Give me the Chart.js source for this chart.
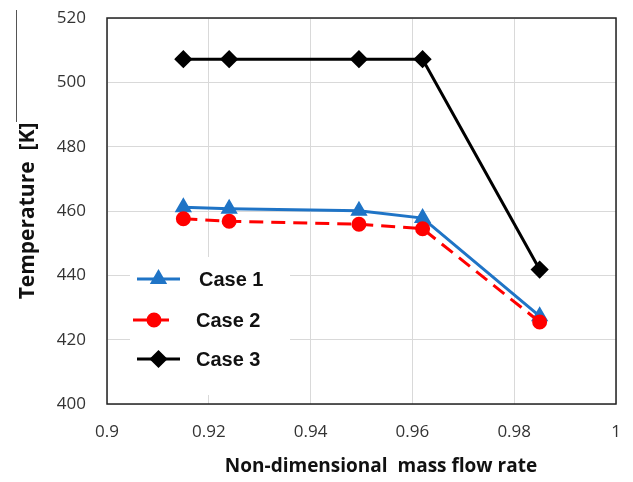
<!DOCTYPE html>
<html>
<head>
<meta charset="utf-8">
<script src="https://cdn.jsdelivr.net/npm/chart.js@4"></script>
<style>
  html, body { margin: 0; padding: 0; background: #fff; }
  #wrap { width: 633px; height: 482px; position: relative; }
</style>
</head>
<body>
<div id="wrap"><canvas id="chart"></canvas></div>
<script>
// datos
const massFlow = [0.915, 0.924, 0.9495, 0.962, 0.985];
const case1 = [461.2, 460.7, 460.1, 457.8, 427.3];
const case2 = [457.6, 456.8, 455.9, 454.5, 425.5];
const case3 = [507.2, 507.2, 507.2, 507.2, 441.8];
const seriesNames = ['Case 1', 'Case 2', 'Case 3'];
const xTicks = [0.9, 0.92, 0.94, 0.96, 0.98, 1];
const yTicks = [400, 420, 440, 460, 480, 500, 520];
const xTitle = 'Non-dimensional  mass flow rate';
const yTitle = 'Temperature  [K]';

const toPoints = (ys) => massFlow.map((x, i) => ({ x: x, y: ys[i] }));

// caja del grafico + leyenda dentro del area + titulo X
const framePlugin = {
  id: 'frame',
  beforeDatasetsDraw(chart) {
    const { ctx } = chart;
    ctx.save();
    // fondo blanco de la leyenda (tapa la rejilla)
    ctx.fillStyle = '#fff';
    ctx.fillRect(130, 257, 160, 138);
    ctx.restore();
  },
  afterDatasetsDraw(chart) {
    const { ctx, chartArea: a } = chart;
    ctx.save();
    ctx.strokeStyle = '#222';
    ctx.lineWidth = 1.5;
    ctx.strokeRect(a.left, a.top, a.right - a.left, a.bottom - a.top);

    // leyenda
    const rows = [
      { y: 279, x0: 137, x1: 180, tx: 199 },
      { y: 320, x0: 133, x1: 175, tx: 196 },
      { y: 359, x0: 137, x1: 180, tx: 196 }
    ];
    chart.data.datasets.forEach((ds, i) => {
      const r = rows[i];
      ctx.strokeStyle = ds.borderColor;
      ctx.lineWidth = ds.borderWidth;
      ctx.setLineDash(ds.borderDash || []);
      ctx.beginPath();
      ctx.moveTo(r.x0, r.y);
      ctx.lineTo(r.x1, r.y);
      ctx.stroke();
      ctx.setLineDash([]);
      ctx.fillStyle = ds.backgroundColor;
      Chart.helpers.drawPoint(ctx, {
        pointStyle: ds.pointStyle, radius: ds.pointRadius, borderWidth: 1
      }, (r.x0 + r.x1) / 2, r.y);
      ctx.fillStyle = '#111';
      ctx.font = 'bold 20px "Liberation Sans", Arial, sans-serif';
      ctx.textBaseline = 'middle';
      ctx.textAlign = 'left';
      ctx.fillText(ds.label, r.tx, r.y + 1);
    });

    // titulo eje X (un poco desplazado a la derecha como en la figura)
    ctx.font = 'bold 19px "Open Sans", sans-serif';
    ctx.textAlign = 'center';
    ctx.textBaseline = 'middle';
    ctx.fillText(xTitle, 381, 467);

    // linea suelta arriba a la izquierda
    ctx.strokeStyle = '#555';
    ctx.lineWidth = 1;
    ctx.beginPath();
    ctx.moveTo(16.5, 10);
    ctx.lineTo(16.5, 122);
    ctx.stroke();
    ctx.restore();
  }
};

const ctx = document.getElementById('chart').getContext('2d');
const chart = new Chart(ctx, {
  type: 'line',
  data: {
    datasets: [
      { label: seriesNames[0], data: toPoints(case1), borderColor: '#1f74c6', backgroundColor: '#1f74c6', borderWidth: 3, pointStyle: 'triangle', pointRadius: 7, order: 3 },
      { label: seriesNames[1], data: toPoints(case2), borderColor: '#ff0000', backgroundColor: '#ff0000', borderWidth: 3, borderDash: [14, 8], pointStyle: 'circle', pointRadius: 6, order: 2 },
      { label: seriesNames[2], data: toPoints(case3), borderColor: '#000000', backgroundColor: '#000000', borderWidth: 3, pointStyle: 'rectRot', pointRadius: 7, order: 1 }
    ]
  },
  options: {
    responsive: true, maintainAspectRatio: false, animation: false,
    layout: { padding: { top: 18, right: 17, left: 0, bottom: 0 } },
    elements: { line: { tension: 0 }, point: { borderWidth: 1 } },
    plugins: { legend: { display: false }, tooltip: { enabled: false } },
    scales: {
      x: {
        type: 'linear', min: 0.9, max: 1,
        afterBuildTicks: (s) => { s.ticks = xTicks.map(v => ({ value: v })); },
        afterFit: (s) => { s.height = 78; s.paddingLeft = 0; s.paddingRight = 0; },
        grid: { color: '#d9d9d9', lineWidth: 1, drawTicks: false },
        border: { display: false },
        ticks: { padding: 18, color: '#333', font: { family: '"Open Sans", sans-serif', size: 17 },
                 callback: (v) => String(+v.toFixed(2)) },
        title: { display: false }
      },
      y: {
        min: 400, max: 520,
        afterBuildTicks: (s) => { s.ticks = yTicks.map(v => ({ value: v })); },
        afterFit: (s) => { s.width = 107; s.paddingTop = 0; s.paddingBottom = 0; },
        grid: { color: '#d9d9d9', lineWidth: 1, drawTicks: false },
        border: { display: false },
        ticks: { padding: 21, color: '#333', font: { family: '"Open Sans", sans-serif', size: 17 } },
        title: { display: true, text: yTitle, color: '#111',
                 font: { family: '"Open Sans", sans-serif', size: 21, weight: 'bold' }, padding: { top: 15, bottom: 0 } }
      }
    }
  },
  plugins: [framePlugin]
});
</script>
</body>
</html>
